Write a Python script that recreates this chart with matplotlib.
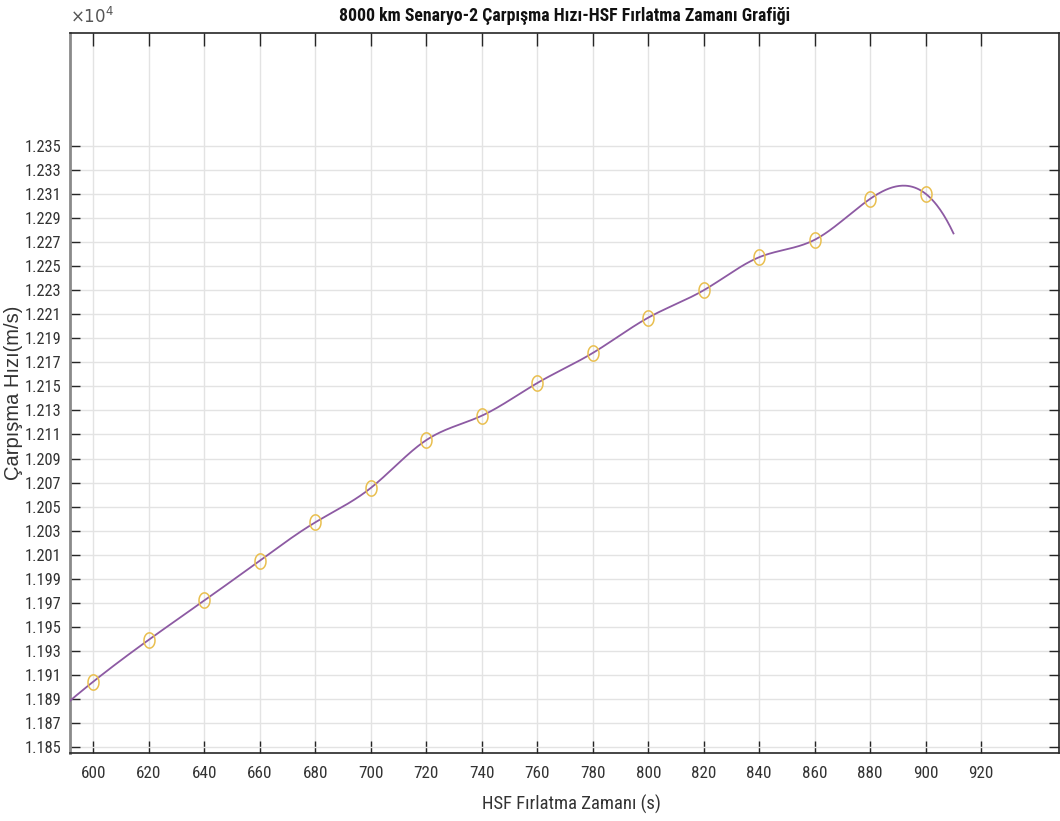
import numpy as np
import matplotlib
matplotlib.use("Agg")
import matplotlib.pyplot as plt
from matplotlib import font_manager
from matplotlib.font_manager import FontProperties
from matplotlib.path import Path
from matplotlib.ticker import FixedLocator, FuncFormatter

# Launch time (s) and impact velocity (m/s)
launch_time = [600, 620, 640, 660, 680, 700, 720, 740, 760, 780,
               800, 820, 840, 860, 880, 900]
impact_speed = [11904.4, 11939.2, 11971.9, 12005.0, 12036.9, 12065.5,
                12105.3, 12125.6, 12152.8, 12177.8, 12207.2, 12230.0,
                12257.5, 12272.0, 12306.1, 12310.2]

x_ticks = [600, 620, 640, 660, 680, 700, 720, 740, 760, 780, 800, 820,
           840, 860, 880, 900, 920]
y_ticks = [11850, 11870, 11890, 11910, 11930, 11950, 11970, 11990, 12010,
           12030, 12050, 12070, 12090, 12110, 12130, 12150, 12170, 12190,
           12210, 12230, 12250, 12270, 12290, 12310, 12330, 12350]
fit_range = (590, 910)


def not_a_knot_spline(x, y):
    """Cubic spline with not-a-knot end conditions; returns evaluator."""
    x = np.asarray(x, float)
    y = np.asarray(y, float)
    m = len(x) - 1
    A = np.zeros((4 * m, 4 * m))
    b = np.zeros(4 * m)
    r = 0
    h = np.diff(x)
    for i in range(m):
        c = 4 * i
        A[r, c] = 1.0
        b[r] = y[i]
        r += 1
        A[r, c:c + 4] = [1.0, h[i], h[i] ** 2, h[i] ** 3]
        b[r] = y[i + 1]
        r += 1
    for i in range(m - 1):
        c = 4 * i
        hi = h[i]
        A[r, c:c + 4] = [0, 1, 2 * hi, 3 * hi ** 2]
        A[r, c + 5] = -1
        r += 1
        A[r, c:c + 4] = [0, 0, 2, 6 * hi]
        A[r, c + 6] = -2
        r += 1
    A[r, 3] = 1
    A[r, 7] = -1
    r += 1
    A[r, 4 * (m - 2) + 3] = 1
    A[r, 4 * (m - 1) + 3] = -1
    coef = np.linalg.solve(A, b).reshape(m, 4)

    def evaluate(t):
        t = np.asarray(t, float)
        idx = np.clip(np.searchsorted(x, t, side="right") - 1, 0, m - 1)
        d = t - x[idx]
        cc = coef[idx]
        return cc[:, 0] + cc[:, 1] * d + cc[:, 2] * d ** 2 + cc[:, 3] * d ** 3

    return evaluate


def _stretch_value(s):
    table = {"ultra-condensed": 100, "extra-condensed": 200,
             "condensed": 300, "semi-condensed": 400, "normal": 500}
    if isinstance(s, (int, float)):
        return s
    return table.get(str(s), 500)


def _weight_value(w):
    if isinstance(w, (int, float)):
        return w
    return {"bold": 700, "semibold": 600, "demibold": 600, "normal": 400,
            "regular": 400, "medium": 500, "light": 300}.get(str(w), 400)


def pick_condensed(bold=False):
    """Find a narrow sans-serif face; fall back to Liberation Sans."""
    prefer = ["Liberation Sans Narrow", "Arial Narrow", "Roboto Condensed",
              "DejaVu Sans", "Noto Sans", "Open Sans", "Roboto"]
    cands = []
    for f in font_manager.fontManager.ttflist:
        narrow = ("Narrow" in f.name or "Condensed" in f.name
                  or _stretch_value(f.stretch) < 500
                  or "Condensed" in f.fname or "Narrow" in f.fname)
        if not narrow or f.style != "normal":
            continue
        w = _weight_value(f.weight)
        if bold and w < 600:
            continue
        if not bold and (w < 350 or w > 450):
            continue
        rank = next((i for i, p in enumerate(prefer) if f.name.startswith(p)),
                    len(prefer))
        cands.append((rank, abs(w - (700 if bold else 400)), f.fname))
    if cands:
        cands.sort()
        return FontProperties(fname=cands[0][2]), True
    return FontProperties(family="Liberation Sans",
                          weight="bold" if bold else "normal"), False


font_reg, have_narrow = pick_condensed(False)
font_bold, _ = pick_condensed(True)
if not have_narrow:
    font_bold = FontProperties(family="Liberation Sans", weight="bold")
scale = 1.0 if have_narrow else 0.86

spline = not_a_knot_spline(launch_time, impact_speed)
xs = np.linspace(fit_range[0], fit_range[1], 800)
ys = spline(xs)

fig = plt.figure(figsize=(10.6, 8.21), dpi=100)
ax = fig.add_axes([0.066, 0.0828, 0.933, 0.877])

ax.plot(xs, ys, color="#8d5aa3", lw=1.3, zorder=3)

# slightly tall ellipse marker
theta = np.linspace(0, 2 * np.pi, 60)
ellipse = Path(np.column_stack([0.72 * np.cos(theta), np.sin(theta)]), closed=True)
ax.plot(launch_time, impact_speed, linestyle="none", marker=ellipse,
        markersize=11, markerfacecolor="none", markeredgecolor="#e9bf4f",
        markeredgewidth=1.1, zorder=4)

ax.set_xlim(591.6, 948)
ax.set_ylim(11845, 12444)
ax.xaxis.set_major_locator(FixedLocator(x_ticks))
ax.yaxis.set_major_locator(FixedLocator(y_ticks))
ax.yaxis.set_major_formatter(FuncFormatter(lambda v, p: f"{v / 1e4:.3f}"))

ax.grid(True, color="#e3e3e3", lw=1.0)
ax.set_axisbelow(True)
ax.tick_params(axis="both", which="major", direction="in", top=True,
               right=True, colors="#262626", labelcolor="#333333",
               width=1.0)
ax.tick_params(axis="x", length=9, pad=9)
ax.tick_params(axis="y", length=7, pad=6)

for lbl in ax.get_xticklabels():
    lbl.set_fontproperties(font_reg)
    lbl.set_fontsize(12.3 * scale)
for lbl in ax.get_yticklabels():
    lbl.set_fontproperties(font_reg)
    lbl.set_fontsize(11.8 * scale)

for side in ("top", "bottom", "right"):
    ax.spines[side].set_color("#262626")
    ax.spines[side].set_linewidth(1.2)
ax.spines["left"].set_color("#8a8a8a")
ax.spines["left"].set_linewidth(2.0)

title_fp = font_bold.copy()
title_fp.set_size(12.8 * scale)
ax.set_title("8000 km Senaryo-2 Çarpışma Hızı-HSF Fırlatma Zamanı Grafiği",
             fontproperties=title_fp, color="#111111", pad=9)

xl_fp = font_reg.copy()
xl_fp.set_size(13.4 * scale)
ax.set_xlabel("HSF Fırlatma Zamanı (s)", fontproperties=xl_fp,
              color="#333333")
ax.xaxis.set_label_coords(0.507, -0.058)

ax.set_ylabel("Çarpışma Hızı(m/s)", fontsize=14.5,
              family=["Liberation Sans", "DejaVu Sans"], color="#333333")
ax.yaxis.set_label_coords(-0.047, 0.5)

ax.text(0.0, 1.008, r"$\times10^{4}$", transform=ax.transAxes,
        fontsize=12, color="#555555", ha="left", va="bottom")

fig.savefig("out.png", dpi=100)
